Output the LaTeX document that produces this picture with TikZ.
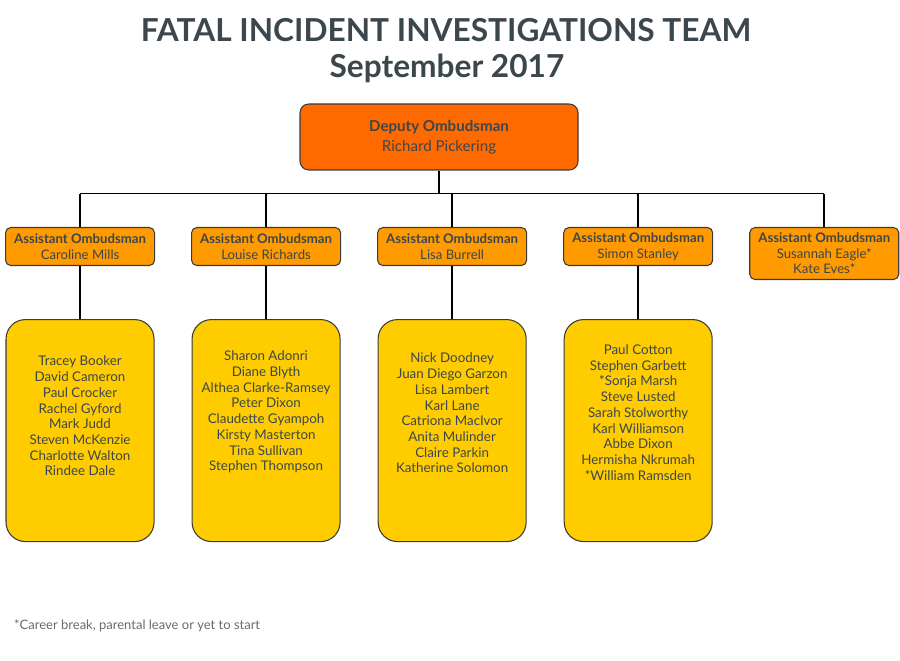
\documentclass[tikz,border=0pt]{standalone}
\usepackage{fontspec}
\setmainfont{Lato}
\usepackage{tikz}
\usepackage{xcolor}
\usetikzlibrary{positioning}
\definecolor{inkgray}{HTML}{3B474C}
\definecolor{deputyorange}{HTML}{FF6A00}
\definecolor{assistorange}{HTML}{FF9A00}
\definecolor{teamyellow}{HTML}{FFCC00}
\definecolor{frameline}{HTML}{3A3A3A}
\definecolor{notegray}{HTML}{6A6A6A}

\begin{document}
\begin{tikzpicture}[
    x=0.2mm, y=0.2mm,
    node distance=0.72cm,
    heading/.style={font=\fontsize{18}{21}\selectfont\bfseries, text=inkgray},
    deputy/.style={rectangle, rounded corners=5pt, draw=frameline, fill=deputyorange, line width=0.6pt, align=center, text=inkgray, minimum width=5.56cm, minimum height=1.32cm, font=\fontsize{8.6}{11.4}\selectfont},
    assistant/.style={rectangle, rounded corners=3pt, draw=frameline, fill=assistorange, line width=0.6pt, align=center, text=inkgray, inner sep=2pt, minimum width=2.98cm, minimum height=0.76cm, font=\fontsize{7.5}{8.8}\selectfont},
    teambox/.style={rectangle, rounded corners=11pt, draw=frameline, fill=teamyellow, line width=0.6pt, minimum width=2.96cm, minimum height=4.44cm},
    names/.style={align=center, text=inkgray, font=\fontsize{7.6}{8.95}\selectfont},
    link/.style={line width=1.1pt, draw=black}
  ]
    \useasboundingbox (0,0) rectangle (900,660);
    \node[heading] (title) at (446,630) {FATAL INCIDENT INVESTIGATIONS TEAM};
    \node[heading] (month) at (447,592) {September 2017};
    \node[deputy] (deputy) at (439,523) {\textbf{Deputy Ombudsman}\\Richard Pickering};
    \node[assistant, anchor=north west] (a1) at (5,433) {\textbf{Assistant Ombudsman}\\Caroline Mills};
    \node[assistant, right=of a1] (a2) {\textbf{Assistant Ombudsman}\\Louise Richards};
    \node[assistant, right=of a2] (a3) {\textbf{Assistant Ombudsman}\\Lisa Burrell};
    \node[assistant, right=of a3] (a4) {\textbf{Assistant Ombudsman}\\Simon Stanley};
    \node[assistant, minimum height=1.04cm, right=of a4.north east, anchor=north west] (a5) {\textbf{Assistant Ombudsman}\\Susannah Eagle*\\Kate Eves*};
    \foreach \i in {1,...,4}
      \node[teambox, below=1.06cm of a\i] (t\i) {};
    \node[names] (n1) at ([yshift=0.29cm]t1.center) {Tracey Booker\\David Cameron\\Paul Crocker\\Rachel Gyford\\Mark Judd\\Steven McKenzie\\Charlotte Walton\\Rindee Dale};
    \node[names] (n2) at ([yshift=0.37cm]t2.center) {Sharon Adonri\\Diane Blyth\\Althea Clarke-Ramsey\\Peter Dixon\\Claudette Gyampoh\\Kirsty Masterton\\Tina Sullivan\\Stephen Thompson};
    \node[names] (n3) at ([yshift=0.35cm]t3.center) {Nick Doodney\\Juan Diego Garzon\\Lisa Lambert\\Karl Lane\\Catriona MacIvor\\Anita Mulinder\\Claire Parkin\\Katherine Solomon};
    \node[names] (n4) at ([yshift=0.36cm]t4.center) {Paul Cotton\\Stephen Garbett\\*Sonja Marsh\\Steve Lusted\\Sarah Stolworthy\\Karl Williamson\\Abbe Dixon\\Hermisha Nkrumah\\*William Ramsden};
    \node[anchor=west, text=notegray, font=\fontsize{7.4}{8.6}\selectfont] (note) at (8,34) {*Career break, parental leave or yet to start};
    % reporting lines
    \coordinate (bus) at ([yshift=-0.46cm]deputy.south);
    \draw[link] (deputy.south) -- (bus);
    \draw[link] (bus -| a1.north) -- (bus -| a5.north);
    \foreach \i in {1,...,5}
      \draw[link] (bus -| a\i.north) -- (a\i.north);
    \foreach \i in {1,...,4}
      \draw[link] (a\i.south) -- (t\i.north);
  \end{tikzpicture}
\end{document}
